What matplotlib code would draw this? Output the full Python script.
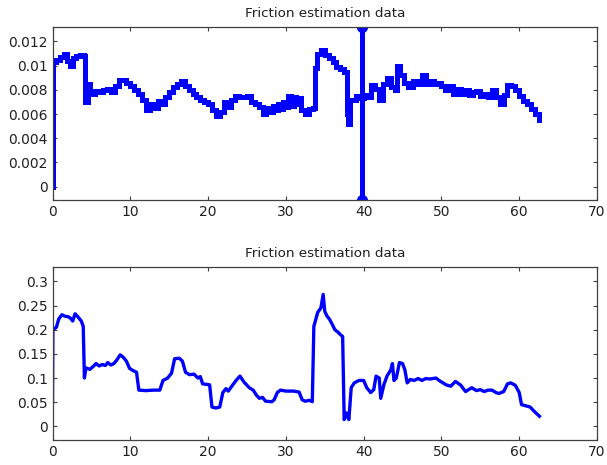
import matplotlib
matplotlib.use("Agg")
import matplotlib.pyplot as plt
from matplotlib.ticker import FuncFormatter

# top panel: stair-like friction estimate
top_t = [0.0, 0.05, 0.5, 1.0, 1.5, 1.9, 2.2, 2.6, 3.0, 3.5, 4.0, 4.2, 4.5, 4.8,
         5.5, 6.0, 6.5, 7.0, 7.5, 8.0, 8.5, 9.5, 10.0, 10.5, 11.0, 11.5, 12.0,
         12.5, 13.0, 13.5, 14.0, 14.5, 15.0, 15.5, 16.0, 16.5, 17.0, 17.5, 18.0,
         18.5, 19.0, 19.5, 20.0, 20.5, 21.0, 21.5, 22.0, 22.5, 23.0, 23.5, 24.0,
         25.0, 25.5, 26.0, 26.5, 27.0, 27.5, 28.0, 28.3, 28.6, 29.0, 29.3, 29.6,
         30.0, 30.3, 30.6, 31.0, 31.3, 31.6, 32.0, 32.5, 33.0, 33.5, 33.7, 34.0,
         34.5, 35.0, 35.5, 36.0, 36.5, 37.0, 37.5, 37.8, 38.0, 38.3, 39.0, 39.5,
         40.0, 40.5, 41.0, 41.5, 42.0, 42.5, 43.0, 43.5, 44.0, 44.3, 44.7, 45.2,
         45.7, 46.3, 47.0, 47.5, 48.0, 48.5, 49.0, 49.5, 50.0, 50.5, 51.0, 51.5,
         52.0, 52.5, 53.0, 53.5, 54.0, 54.5, 55.0, 55.5, 56.0, 56.5, 57.0, 57.5,
         58.0, 58.4, 59.0, 59.5, 60.0, 60.5, 61.0, 61.5, 62.0, 62.5, 62.6]
top_f = [0.0, 0.0103, 0.0105, 0.0107, 0.0110, 0.0104, 0.0100, 0.0106, 0.0108,
         0.0109, 0.0108, 0.0070, 0.0085, 0.0077, 0.0079, 0.0078, 0.0080, 0.0081,
         0.0078, 0.0083, 0.0088, 0.0086, 0.0083, 0.0080, 0.0077, 0.0072, 0.0063,
         0.0068, 0.0065, 0.0071, 0.0068, 0.0074, 0.0078, 0.0082, 0.0085, 0.0087,
         0.0083, 0.0080, 0.0077, 0.0074, 0.0072, 0.0070, 0.0068, 0.0063, 0.0058,
         0.0062, 0.0070, 0.0066, 0.0072, 0.0075, 0.0074, 0.0075, 0.0070, 0.0068,
         0.0066, 0.0060, 0.0065, 0.0062, 0.0067, 0.0063, 0.0068, 0.0064, 0.0070,
         0.0066, 0.0075, 0.0067, 0.0074, 0.0068, 0.0073, 0.0063, 0.0060, 0.0064,
         0.0065, 0.0098, 0.0110, 0.0113, 0.0109, 0.0106, 0.0103, 0.0099, 0.0097,
         0.0095, 0.0060, 0.0052, 0.0072, 0.0075, 0.0073, 0.0076, 0.0074, 0.0084,
         0.0081, 0.0072, 0.0085, 0.0090, 0.0082, 0.0080, 0.0100, 0.0092, 0.0086,
         0.0082, 0.0087, 0.0085, 0.0092, 0.0085, 0.0087, 0.0085, 0.0086, 0.0083,
         0.0080, 0.0083, 0.0077, 0.0081, 0.0077, 0.0080, 0.0076, 0.0078, 0.0079,
         0.0075, 0.0077, 0.0074, 0.0080, 0.0074, 0.0068, 0.0076, 0.0084, 0.0083,
         0.0080, 0.0075, 0.0071, 0.0068, 0.0064, 0.0060, 0.0055, 0.0055]

# outlier sample around t=40 that shoots off the scale
spike_t = [39.8, 39.8]
spike_f = [0.0132, -0.0011]

# bottom panel: smoothed friction estimate
bot_t = [0.0, 0.05, 0.5, 0.8, 1.2, 1.6, 2.0, 2.3, 2.6, 2.9, 3.3, 3.7, 3.95, 4.1,
         4.3, 4.8, 5.3, 5.6, 6.0, 6.4, 6.8, 7.1, 7.5, 7.9, 8.3, 8.7, 9.1, 9.5,
         9.9, 10.4, 10.8, 11.1, 12.0, 13.0, 13.8, 14.2, 14.8, 15.3, 15.7, 16.3,
         16.7, 17.1, 17.6, 18.2, 18.7, 19.0, 19.3, 20.2, 20.5, 21.0, 21.5, 21.9,
         22.3, 22.6, 23.0, 23.6, 24.1, 24.6, 25.3, 25.8, 26.2, 26.6, 27.0, 27.4,
         28.2, 28.5, 28.9, 29.3, 30.0, 31.0, 31.7, 32.1, 32.5, 33.0, 33.4, 33.6,
         34.1, 34.5, 34.8, 35.0, 35.3, 35.6, 36.0, 36.3, 36.7, 37.0, 37.3, 37.5,
         37.75, 38.1, 38.4, 38.8, 39.4, 40.0, 40.4, 40.9, 41.3, 41.6, 42.0, 42.2,
         42.6, 43.0, 43.5, 43.7, 43.9, 44.2, 44.6, 45.0, 45.3, 45.6, 46.0, 46.5,
         47.0, 47.5, 48.0, 48.5, 49.3, 49.7, 50.6, 51.2, 51.8, 52.5, 53.1, 53.9,
         54.5, 55.0, 55.5, 56.0, 56.5, 57.0, 57.4, 58.0, 58.5, 58.9, 59.5, 60.0,
         60.3, 61.4, 62.0, 62.6]
bot_f = [0.05, 0.20, 0.205, 0.222, 0.231, 0.228, 0.227, 0.224, 0.218, 0.233,
         0.226, 0.218, 0.207, 0.10, 0.121, 0.118, 0.125, 0.130, 0.125, 0.128,
         0.126, 0.132, 0.127, 0.130, 0.138, 0.148, 0.143, 0.135, 0.120, 0.115,
         0.112, 0.075, 0.074, 0.075, 0.075, 0.095, 0.100, 0.110, 0.140, 0.141,
         0.135, 0.112, 0.107, 0.108, 0.100, 0.103, 0.088, 0.086, 0.040, 0.038,
         0.040, 0.070, 0.078, 0.073, 0.082, 0.095, 0.104, 0.092, 0.080, 0.075,
         0.065, 0.058, 0.060, 0.052, 0.051, 0.055, 0.070, 0.075, 0.073, 0.073,
         0.071, 0.055, 0.052, 0.054, 0.051, 0.207, 0.236, 0.245, 0.273, 0.238,
         0.228, 0.222, 0.210, 0.200, 0.195, 0.190, 0.186, 0.014, 0.028, 0.014,
         0.080, 0.090, 0.095, 0.095, 0.080, 0.070, 0.076, 0.104, 0.100, 0.058,
         0.086, 0.104, 0.117, 0.130, 0.095, 0.100, 0.132, 0.130, 0.117, 0.090,
         0.097, 0.095, 0.099, 0.095, 0.099, 0.098, 0.100, 0.095, 0.086, 0.083,
         0.093, 0.085, 0.072, 0.080, 0.074, 0.076, 0.072, 0.075, 0.075, 0.070,
         0.068, 0.072, 0.088, 0.090, 0.085, 0.070, 0.045, 0.040, 0.030, 0.021]

x_ticks = [0, 10, 20, 30, 40, 50, 60, 70]
top_yticks = [0, 0.002, 0.004, 0.006, 0.008, 0.01, 0.012]
bot_yticks = [0, 0.05, 0.1, 0.15, 0.2, 0.25, 0.3]
title = "Friction estimation data"

BLUE = "#0000ff"
GREY = "#404040"

fig = plt.figure(figsize=(6.07, 4.65), dpi=100)
ax1 = fig.add_axes([0.0865, 0.570, 0.897, 0.372])
ax2 = fig.add_axes([0.0865, 0.054, 0.897, 0.372])

ax1.plot(top_t, top_f, drawstyle="steps-post", color=BLUE, lw=3.6,
         solid_joinstyle="miter")
ax1.plot(spike_t, spike_f, color=BLUE, lw=3.6, marker="o", ms=7)
ax1.set_ylim(-0.0011, 0.0132)
ax1.set_yticks(top_yticks)

ax2.plot(bot_t, bot_f, color=BLUE, lw=2.4)
ax2.set_ylim(-0.028, 0.33)
ax2.set_yticks(bot_yticks)

fmt = FuncFormatter(lambda v, p: "%g" % round(v, 6))
for ax in (ax1, ax2):
    ax.set_xlim(0, 70)
    ax.set_xticks(x_ticks)
    ax.yaxis.set_major_formatter(fmt)
    ax.set_title(title, fontsize=9.7, color="#202020", pad=7)
    ax.tick_params(direction="in", top=True, right=True, length=3,
                   width=0.8, color=GREY, labelsize=10, labelcolor="#202020")
    for s in ax.spines.values():
        s.set_color(GREY)
        s.set_linewidth(0.9)

fig.savefig("out.png", dpi=100)
